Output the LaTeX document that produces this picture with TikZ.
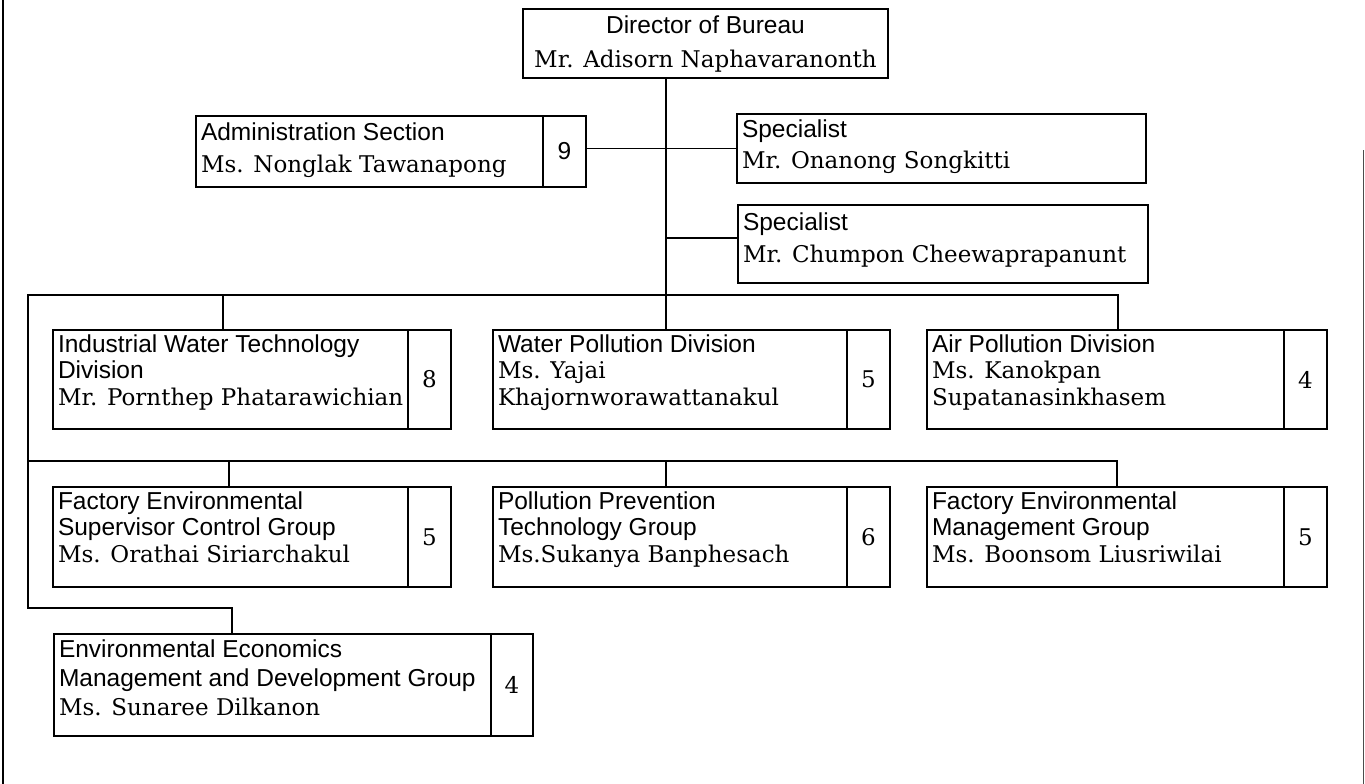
\documentclass[tikz,border=0pt]{standalone}
\usepackage{fontspec}
\setmainfont{DejaVu Serif}
\setsansfont{Liberation Sans}[Scale=1.065]

% one line of a box, sans or serif, never broken
\newcommand\sline[1]{\mbox{\sffamily #1}}
\newcommand\rline[1]{\mbox{#1}}
% text cell: width, height, first baseline, leading, lines (top aligned, flush left)
\newcommand\cbox[5]{\parbox[c][#2pt][t]{#1pt}{\fontsize{23}{#4}\selectfont\raggedright\leftskip=5pt\relax\parindent=0pt\rule{0pt}{#3pt}#5\par}}
% same, centred lines
\newcommand\ccbox[5]{\parbox[c][#2pt][t]{#1pt}{\fontsize{23}{#4}\selectfont\centering\rule{0pt}{#3pt}#5\par}}

\tikzset{
  ink/.style={line width=1.7pt, black},
  cell/.style={draw, line width=1.7pt, inner sep=0pt, outer sep=0pt, anchor=north west},
  numcell/.style={cell, minimum width=43pt, font=\fontsize{23}{26}\selectfont},
}

\begin{document}
\begin{tikzpicture}[x=1pt, y=-1pt]
\useasboundingbox (0,0) rectangle (1365,784);

% page frame
\draw[line width=1.8pt] (3,0) -- (3,784);
\draw[line width=1pt, black!70] (1363,150) -- (1363,784);

% director
\node[cell] (dir) at (523,9) {\ccbox{365}{69}{24}{34}{\sline{Director of Bureau}\\\rline{Mr. Adisorn Naphavaranonth}}};

% administration section
\node[cell] (adm) at (196,116) {\cbox{347}{71}{24}{32}{\sline{Administration Section}\\\rline{Ms. Nonglak Tawanapong}}};
\node[numcell, minimum height=71pt, font=\sffamily\fontsize{23}{26}\selectfont] (admN) at (adm.north east) {9};

% specialists
\node[cell] (sp1) at (737,114) {\cbox{409}{69}{23}{31}{\sline{Specialist}\\\rline{Mr. Onanong Songkitti}}};
\node[cell] (sp2) at (738,205) {\cbox{410}{78}{25}{32}{\sline{Specialist}\\\rline{Mr. Chumpon Cheewaprapanunt}}};

% divisions
\node[cell] (ind) at (53,330) {\cbox{355}{99}{22}{26.5}{\sline{Industrial Water Technology}\\\sline{Division}\\\rline{Mr. Pornthep Phatarawichian}}};
\node[numcell, minimum height=99pt] (indN) at (ind.north east) {8};

\node[cell] (wat) at (493,330) {\cbox{354}{99}{22}{26.5}{\sline{Water Pollution Division}\\\rline{Ms. Yajai}\\\rline{Khajornworawattanakul}}};
\node[numcell, minimum height=99pt] (watN) at (wat.north east) {5};

\node[cell] (air) at (927,330) {\cbox{357}{99}{22}{26.5}{\sline{Air Pollution Division}\\\rline{Ms. Kanokpan}\\\rline{Supatanasinkhasem}}};
\node[numcell, minimum height=99pt] (airN) at (air.north east) {4};

% groups
\node[cell] (fes) at (53,487) {\cbox{355}{100}{22}{26.5}{\sline{Factory Environmental}\\\sline{Supervisor Control Group}\\\rline{Ms. Orathai Siriarchakul}}};
\node[numcell, minimum height=100pt] (fesN) at (fes.north east) {5};

\node[cell] (ppt) at (493,487) {\cbox{354}{100}{22}{26.5}{\sline{Pollution Prevention}\\\sline{Technology Group}\\\rline{Ms.Sukanya Banphesach}}};
\node[numcell, minimum height=100pt] (pptN) at (ppt.north east) {6};

\node[cell] (fem) at (927,487) {\cbox{357}{100}{22}{26.5}{\sline{Factory Environmental}\\\sline{Management Group}\\\rline{Ms. Boonsom Liusriwilai}}};
\node[numcell, minimum height=100pt] (femN) at (fem.north east) {5};

\node[cell] (env) at (54,634) {\cbox{437}{102}{23}{29}{\sline{Environmental Economics}\\\sline{Management and Development Group}\\\rline{Ms. Sunaree Dilkanon}}};
\node[numcell, minimum width=42pt, minimum height=102pt] (envN) at (env.north east) {4};

% connector positions
\coordinate (tx) at (666,0);
\coordinate (b2) at (666,238);
\coordinate (bus1) at (28,295);
\coordinate (bus2) at (28,461);
\coordinate (bus3) at (28,608);
\coordinate (dInd) at (223,0);
\coordinate (dAir) at (1118,0);
\coordinate (dFes) at (229,0);
\coordinate (dFem) at (1117,0);
\coordinate (dEnv) at (232,0);

% trunk and staff branches
\draw[ink] (dir.south -| tx) -- (wat.north -| tx);
\draw[ink] (sp1.west) -- (sp1.west -| admN.east);
\draw[ink] (b2) -- (b2 -| sp2.west);

% division bus, running down the left to the last group
\draw[ink] (air.north -| dAir) |- (bus1) -- (bus3) -| (env.north -| dEnv);
\draw[ink] (dInd |- bus1) -- (ind.north -| dInd);

% group bus
\draw[ink] (bus2) -| (fem.north -| dFem);
\draw[ink] (dFes |- bus2) -- (fes.north -| dFes);
\draw[ink] (tx |- bus2) -- (ppt.north -| tx);
\end{tikzpicture}
\end{document}
